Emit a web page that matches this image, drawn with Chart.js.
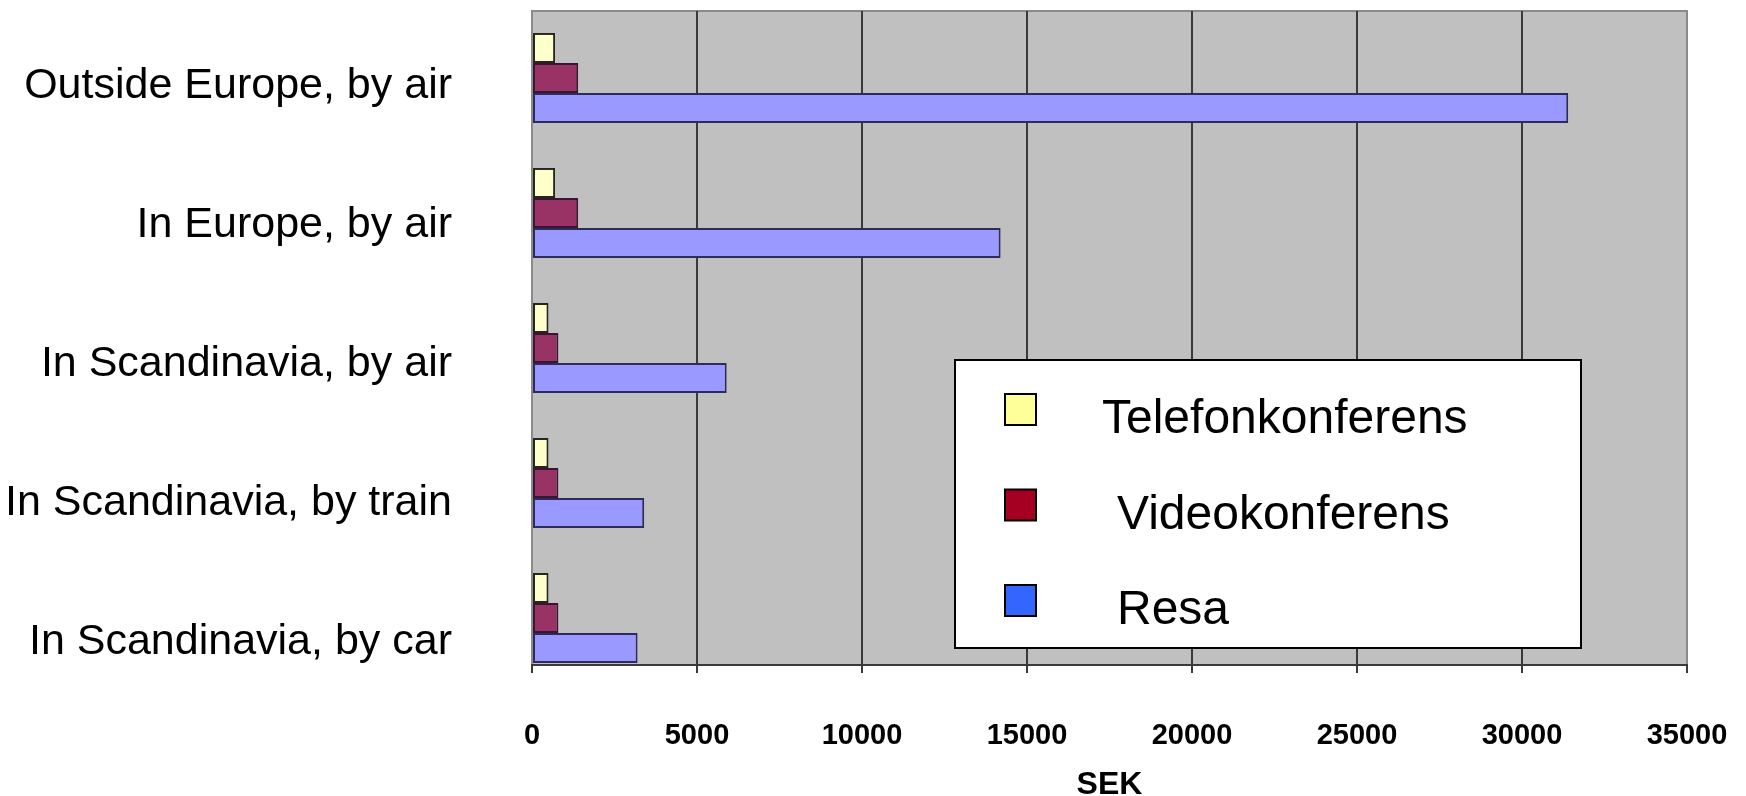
<!DOCTYPE html>
<html>
<head>
<meta charset="utf-8">
<script src="https://cdn.jsdelivr.net/npm/chart.js@4.4.0/dist/chart.umd.min.js"></script>
<style>
  html, body { margin: 0; padding: 0; background: #ffffff; }
  #wrap { width: 1746px; height: 796px; }
</style>
</head>
<body>
<div id="wrap"><canvas id="chart" width="1746" height="796"></canvas></div>
<script>
// Cost per meeting (SEK)
const categories = [
  "Outside Europe, by air",
  "In Europe, by air",
  "In Scandinavia, by air",
  "In Scandinavia, by train",
  "In Scandinavia, by car",
];
const seriesNames = ["Telefonkonferens", "Videokonferens", "Resa"];
const telefon = [700, 700, 500, 500, 500];
const video = [1400, 1400, 800, 800, 800];
const resa = [31400, 14200, 5900, 3400, 3200];
const xMin = 0;
const xMax = 35000;
const xStep = 5000;
const xTitle = "SEK";

const barFill = ["#ffffcc", "#993366", "#9999ff"];
const barEdge = ["#26261c", "#3a1430", "#2c2c5c"];
// the legend swatches use other colours than the bars in the original
const legendFill = ["#ffff99", "#a50021", "#3366ff"];
const legendIndent = [0, 15, 15];

const FONT = '"Liberation Sans", Arial, Helvetica, sans-serif';
Chart.defaults.font.family = FONT;
Chart.defaults.color = "#000000";

function toPoints(values) {
  return values.map((v, i) => ({ x: v, y: i }));
}

/** One tick per category index, so bar spacing and labels follow the categories. */
function categoryTicks(scale) {
  scale.ticks = categories.map((_, i) => ({ value: i }));
}

/** Grey plot background with a thin frame, as in the Excel original. */
const plotFrame = {
  id: "plotFrame",
  beforeDraw(chart) {
    const { ctx, chartArea: a } = chart;
    ctx.save();
    ctx.fillStyle = "#c0c0c0";
    ctx.fillRect(a.left, a.top, a.right - a.left, a.bottom - a.top);
    ctx.strokeStyle = "#8a8a8a";
    ctx.lineWidth = 2;
    ctx.strokeRect(a.left, a.top, a.right - a.left, a.bottom - a.top);
    ctx.restore();
  },
};

/** Boxed legend sitting inside the plot area. */
const boxLegend = {
  id: "boxLegend",
  afterDatasetsDraw(chart) {
    const { ctx } = chart;
    const box = { x: 955, y: 360, w: 626, h: 288 };
    ctx.save();
    ctx.fillStyle = "#ffffff";
    ctx.fillRect(box.x, box.y, box.w, box.h);
    ctx.strokeStyle = "#000000";
    ctx.lineWidth = 2;
    ctx.strokeRect(box.x, box.y, box.w, box.h);
    ctx.font = `48px ${FONT}`;
    ctx.textBaseline = "middle";
    ctx.textAlign = "left";
    chart.data.datasets.forEach((ds, i) => {
      const cy = box.y + 49 + i * 95.5;
      ctx.fillStyle = legendFill[i];
      ctx.fillRect(box.x + 50, cy - 15, 31, 31);
      ctx.strokeStyle = "#000000";
      ctx.lineWidth = 2;
      ctx.strokeRect(box.x + 50, cy - 15, 31, 31);
      ctx.fillStyle = "#000000";
      ctx.fillText(ds.label, box.x + 147 + legendIndent[i], cy + 11);
    });
    ctx.restore();
  },
};

const series = [telefon, video, resa];

new Chart(document.getElementById("chart"), {
  type: "bar",
  data: {
    datasets: series.map((values, i) => ({
      label: seriesNames[i],
      data: toPoints(values),
      backgroundColor: barFill[i],
      borderColor: barEdge[i],
      borderWidth: 2,
      borderSkipped: false,
      categoryPercentage: 0.667,
      barPercentage: 1.0,
      yAxisID: "y",
    })),
  },
  options: {
    indexAxis: "y",
    responsive: false,
    animation: false,
    devicePixelRatio: 1,
    layout: { padding: { top: 11, right: 59, bottom: 0, left: 0 } },
    plugins: {
      legend: { display: false },
      tooltip: { enabled: false },
    },
    scales: {
      x: {
        type: "linear",
        min: xMin,
        max: xMax,
        ticks: {
          stepSize: xStep,
          padding: 46,
          color: "#000000",
          font: { size: 29, weight: "bold" },
          maxRotation: 0,
          callback: (v) => String(v),
        },
        grid: {
          color: (c) =>
            c.tick && (c.tick.value === xMin || c.tick.value === xMax)
              ? "#8a8a8a"
              : "#3a3a3a",
          lineWidth: 2,
          drawTicks: true,
          tickLength: 8,
          tickColor: "#3a3a3a",
        },
        border: { display: true, color: "#3a3a3a", width: 2 },
        title: {
          display: true,
          text: xTitle,
          color: "#000000",
          font: { size: 32, weight: "bold", lineHeight: 0.7 },
          padding: 0,
        },
        afterFit(scale) {
          scale.height = 131;
          scale.paddingLeft = 0;
          scale.paddingRight = 0;
        },
      },
      // index axis used by the bars (hidden)
      y: {
        type: "linear",
        bounds: "data",
        offset: false,
        reverse: true,
        min: -0.496,
        max: 4.348,
        display: false,
        grid: { offset: false },
        afterBuildTicks: categoryTicks,
      },
      // category label axis; the labels sit a little off the bar groups in the original
      y2: {
        type: "linear",
        position: "left",
        bounds: "data",
        offset: false,
        reverse: true,
        min: -0.54,
        max: 4.165,
        afterBuildTicks: categoryTicks,
        ticks: {
          padding: 0,
          color: "#000000",
          font: { size: 43 },
          callback: (v) => (Number.isInteger(v) ? categories[v] : ""),
        },
        grid: { display: false, offset: false, drawTicks: true, tickLength: 80 },
        border: { display: false },
        afterFit(scale) {
          scale.width = 532;
          scale.paddingTop = 0;
          scale.paddingBottom = 0;
        },
      },
    },
  },
  plugins: [plotFrame, boxLegend],
});
</script>
</body>
</html>
